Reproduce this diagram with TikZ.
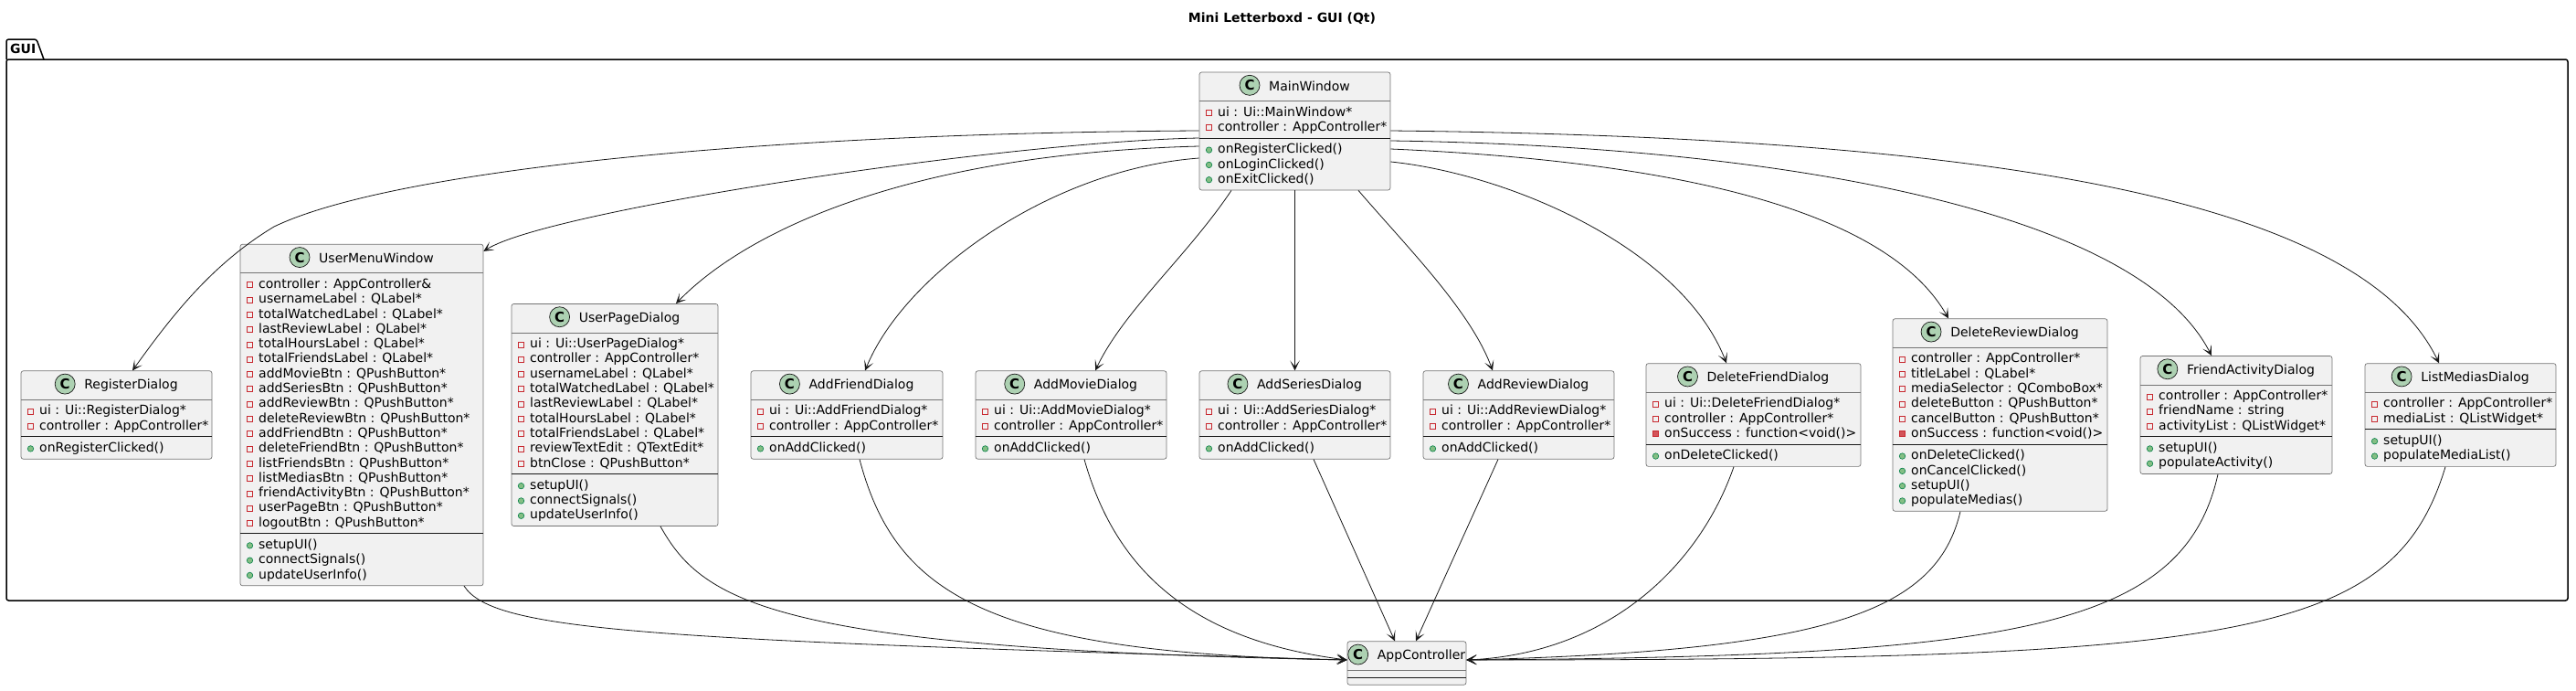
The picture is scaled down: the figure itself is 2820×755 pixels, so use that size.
\documentclass[tikz,border=0pt]{standalone}
\usepackage{fontspec}
\setmainfont{DejaVu Sans}
\usetikzlibrary{arrows.meta}

\definecolor{clsfill}{HTML}{F1F1F1}
\definecolor{clsline}{HTML}{181818}
\definecolor{iconC}{HTML}{ADD1B2}
\definecolor{privred}{HTML}{C82930}
\definecolor{pubfill}{HTML}{84BE84}
\definecolor{publine}{HTML}{038048}

\tikzset{
  clsbox/.style={rectangle, draw=clsline!60, fill=clsfill, line width=0.7pt, rounded corners=2.5pt, inner sep=0pt},
  sepg/.style={draw=clsline!60, line width=0.7pt},
  sepb/.style={draw=clsline, line width=1pt},
  hdr/.style={anchor=base, inner sep=0pt, font=\fontsize{14}{16}\selectfont},
  cicon/.style={circle, draw=clsline, line width=0.7pt, fill=iconC, minimum size=22pt, inner sep=0pt, font=\fontsize{15}{16}\selectfont\bfseries},
  rowtxt/.style={anchor=base west, inner sep=0pt, font=\fontsize{14}{16}\selectfont},
  icA/.style={rectangle, draw=privred, line width=0.8pt, minimum size=6pt, inner sep=0pt},
  icF/.style={rectangle, draw=privred, fill=privred!80, line width=0.8pt, minimum size=6pt, inner sep=0pt},
  icM/.style={circle, draw=publine, fill=pubfill, line width=0.6pt, minimum size=6.5pt, inner sep=0pt},
  conn/.style={draw=clsline, line width=0.8pt, -{Stealth[length=11pt,width=10.5pt,inset=6.5pt]}},
  pkg/.style={draw=black, line width=1.5pt},
  boldlbl/.style={inner sep=0pt, font=\fontsize{14}{16}\selectfont\bfseries},
}

% #1 id, #2 cx, #3 cy, #4 width, #5 title, #6 n attrs, #7 attrs (key/text), #8 n methods, #9 methods
\newcommand\umlclass[9]{%
  \pgfmathsetmacro\clsHA{#6*16.3+8}%
  \pgfmathsetmacro\clsHM{#8*16.3+8}%
  \pgfmathsetmacro\clsH{31.5+\clsHA+\clsHM}%
  \pgfmathsetmacro\clsT{#3-\clsH/2}%
  \pgfmathsetmacro\clsL{#2-#4/2}%
  \node[clsbox, minimum width=#4pt, minimum height=\clsH pt] (#1) at (#2,#3) {};
  \draw[sepg] ({\clsL},{\clsT+31.5}) -- ++(#4,0);
  \draw[sepb] ({\clsL},{\clsT+31.5+\clsHA}) -- ++(#4,0);
  \node[hdr] (#1-t) at ({#2+16},{\clsT+20}) {#5};
  \node[cicon] (#1-c) at ([xshift=-21pt,yshift=5.7pt]#1-t.base west) {C};
  \ifnum#6>0
    \foreach \k/\txt [count=\i from 0] in {#7} {
      \node[\k] at ({\clsL+10.5},{\clsT+44.5+16.3*\i}) {};
      \node[rowtxt] at ({\clsL+20},{\clsT+48.15+16.3*\i}) {\txt};
    }
  \fi
  \ifnum#8>0
    \foreach \txt [count=\i from 0] in {#9} {
      \node[icM] at ({\clsL+10.5},{\clsT+\clsHA+44.5+16.3*\i}) {};
      \node[rowtxt] at ({\clsL+20},{\clsT+\clsHA+48.15+16.3*\i}) {\txt};
    }
  \fi
}

\begin{document}
\begin{tikzpicture}[x=1pt,y=-1pt]
\useasboundingbox (0,0) rectangle (2820,755);

% title
\node[boldlbl, anchor=base] (title) at (1403.5,24) {Mini Letterboxd - GUI (Qt)};

% package
\draw[pkg, rounded corners=2.5pt] (7,65) -- (7,43) -- (40,43) -- (48,65);
\draw[pkg, rounded corners=2.5pt] (7,65) rectangle (2811,657);
\node[boldlbl, anchor=base west] (gui) at (11,58) {GUI};

% classes
\umlclass{mw}{1417.5}{143.5}{209}{MainWindow}{2}{%
icA/ui : Ui::MainWindow*,%
icA/controller : AppController*}{3}{%
onRegisterClicked(),%
onLoginClicked(),%
onExitClicked()}

\umlclass{rd}{127.5}{454}{209}{RegisterDialog}{2}{%
icA/ui : Ui::RegisterDialog*,%
icA/controller : AppController*}{1}{%
onRegisterClicked()}

\umlclass{umw}{396}{454}{266}{UserMenuWindow}{17}{%
icA/controller : AppController\&,%
icA/usernameLabel : QLabel*,%
icA/totalWatchedLabel : QLabel*,%
icA/lastReviewLabel : QLabel*,%
icA/totalHoursLabel : QLabel*,%
icA/totalFriendsLabel : QLabel*,%
icA/addMovieBtn : QPushButton*,%
icA/addSeriesBtn : QPushButton*,%
icA/addReviewBtn : QPushButton*,%
icA/deleteReviewBtn : QPushButton*,%
icA/addFriendBtn : QPushButton*,%
icA/deleteFriendBtn : QPushButton*,%
icA/listFriendsBtn : QPushButton*,%
icA/listMediasBtn : QPushButton*,%
icA/friendActivityBtn : QPushButton*,%
icA/userPageBtn : QPushButton*,%
icA/logoutBtn : QPushButton*}{3}{%
setupUI(),%
connectSignals(),%
updateUserInfo()}

\umlclass{upd}{673}{454}{226}{UserPageDialog}{9}{%
icA/ui : Ui::UserPageDialog*,%
icA/controller : AppController*,%
icA/usernameLabel : QLabel*,%
icA/totalWatchedLabel : QLabel*,%
icA/lastReviewLabel : QLabel*,%
icA/totalHoursLabel : QLabel*,%
icA/totalFriendsLabel : QLabel*,%
icA/reviewTextEdit : QTextEdit*,%
icA/btnClose : QPushButton*}{3}{%
setupUI(),%
connectSignals(),%
updateUserInfo()}

\umlclass{afd}{927}{454}{210}{AddFriendDialog}{2}{%
icA/ui : Ui::AddFriendDialog*,%
icA/controller : AppController*}{1}{%
onAddClicked()}

\umlclass{amd}{1172.5}{454}{209}{AddMovieDialog}{2}{%
icA/ui : Ui::AddMovieDialog*,%
icA/controller : AppController*}{1}{%
onAddClicked()}

\umlclass{asd}{1417.5}{454}{209}{AddSeriesDialog}{2}{%
icA/ui : Ui::AddSeriesDialog*,%
icA/controller : AppController*}{1}{%
onAddClicked()}

\umlclass{ard}{1662.5}{454}{209}{AddReviewDialog}{2}{%
icA/ui : Ui::AddReviewDialog*,%
icA/controller : AppController*}{1}{%
onAddClicked()}

\umlclass{dfd}{1919.5}{454}{235}{DeleteFriendDialog}{3}{%
icA/ui : Ui::DeleteFriendDialog*,%
icA/controller : AppController*,%
icF/onSuccess : function<void()>}{1}{%
onDeleteClicked()}

\umlclass{drd}{2189.5}{454}{235}{DeleteReviewDialog}{6}{%
icA/controller : AppController*,%
icA/titleLabel : QLabel*,%
icA/mediaSelector : QComboBox*,%
icA/deleteButton : QPushButton*,%
icA/cancelButton : QPushButton*,%
icF/onSuccess : function<void()>}{4}{%
onDeleteClicked(),%
onCancelClicked(),%
setupUI(),%
populateMedias()}

\umlclass{fad}{2448}{454}{210}{FriendActivityDialog}{3}{%
icA/controller : AppController*,%
icA/friendName : string,%
icA/activityList : QListWidget*}{2}{%
setupUI(),%
populateActivity()}

\umlclass{lmd}{2693.5}{454}{209}{ListMediasDialog}{2}{%
icA/controller : AppController*,%
icA/mediaList : QListWidget*}{2}{%
setupUI(),%
populateMediaList()}

\umlclass{ac}{1540}{725.5}{130}{AppController}{0}{}{0}{}

% MainWindow -> dialogs
\draw[conn] ([yshift=0.5pt]mw.west) .. controls (800,146) and (420,190) .. (300,248)
            .. controls (230,290) and (185,350) .. ([xshift=17.5pt]rd.north);
\draw[conn] ([yshift=-7.5pt]mw.west) .. controls (1100,155) and (600,230) .. ([yshift=-8pt]umw.north east);
\draw[conn] ([yshift=-16.5pt]mw.west) .. controls (1000,168) and (820,250) .. ([xshift=67pt]upd.north);
\draw[conn] ([yshift=-29.5pt]mw.west) .. controls (1150,185) and (990,300) .. ([xshift=20pt]afd.north);
\draw[conn] ([xshift=-69.5pt]mw.south) .. controls (1300,280) and (1230,340) .. ([xshift=26.5pt]amd.north);
\draw[conn] (mw.south) -- (asd.north);
\draw[conn] ([xshift=69.5pt]mw.south) .. controls (1540,270) and (1610,340) .. ([xshift=-28.5pt]ard.north);
\draw[conn] ([yshift=-33.5pt]mw.east) .. controls (1650,190) and (1840,270) .. ([xshift=-29.5pt]dfd.north);
\draw[conn] ([yshift=-19.5pt]mw.east) .. controls (1800,175) and (2060,220) .. ([xshift=-56.5pt]drd.north);
\draw[conn] ([yshift=-10.5pt]mw.east) .. controls (1950,160) and (2340,230) .. ([xshift=-27pt]fad.north);
\draw[conn] ([yshift=0.5pt]mw.east) .. controls (2150,150) and (2580,210) .. ([xshift=-23.5pt]lmd.north);

% dialogs -> AppController
\draw[conn] ([xshift=112pt]umw.south) .. controls (540,690) and (700,700) .. ([yshift=3.5pt]ac.west);
\draw[conn] ([xshift=50pt]upd.south) .. controls (770,660) and (850,710) .. ([yshift=3.5pt]ac.west);
\draw[conn] ([xshift=14pt]afd.south) .. controls (980,650) and (1080,715) .. ([yshift=3.5pt]ac.west);
\draw[conn] ([xshift=14.5pt]amd.south) .. controls (1220,620) and (1300,700) .. ([yshift=3.5pt]ac.west);
\draw[conn] ([xshift=20.5pt]asd.south) -- ([xshift=-13pt]ac.north);
\draw[conn] ([xshift=-22.5pt]ard.south) -- ([xshift=10pt]ac.north);
\draw[conn] ([xshift=-21.5pt]dfd.south) .. controls (1860,620) and (1760,715) .. ([yshift=3.5pt]ac.east);
\draw[conn] ([xshift=-43.5pt]drd.south) .. controls (2120,670) and (2000,712) .. ([yshift=3.5pt]ac.east);
\draw[conn] ([xshift=-20pt]fad.south) .. controls (2390,690) and (2200,718) .. ([yshift=3.5pt]ac.east);
\draw[conn] ([xshift=-16.5pt]lmd.south) .. controls (2620,700) and (2450,722) .. ([yshift=3.5pt]ac.east);

\end{tikzpicture}
\end{document}
